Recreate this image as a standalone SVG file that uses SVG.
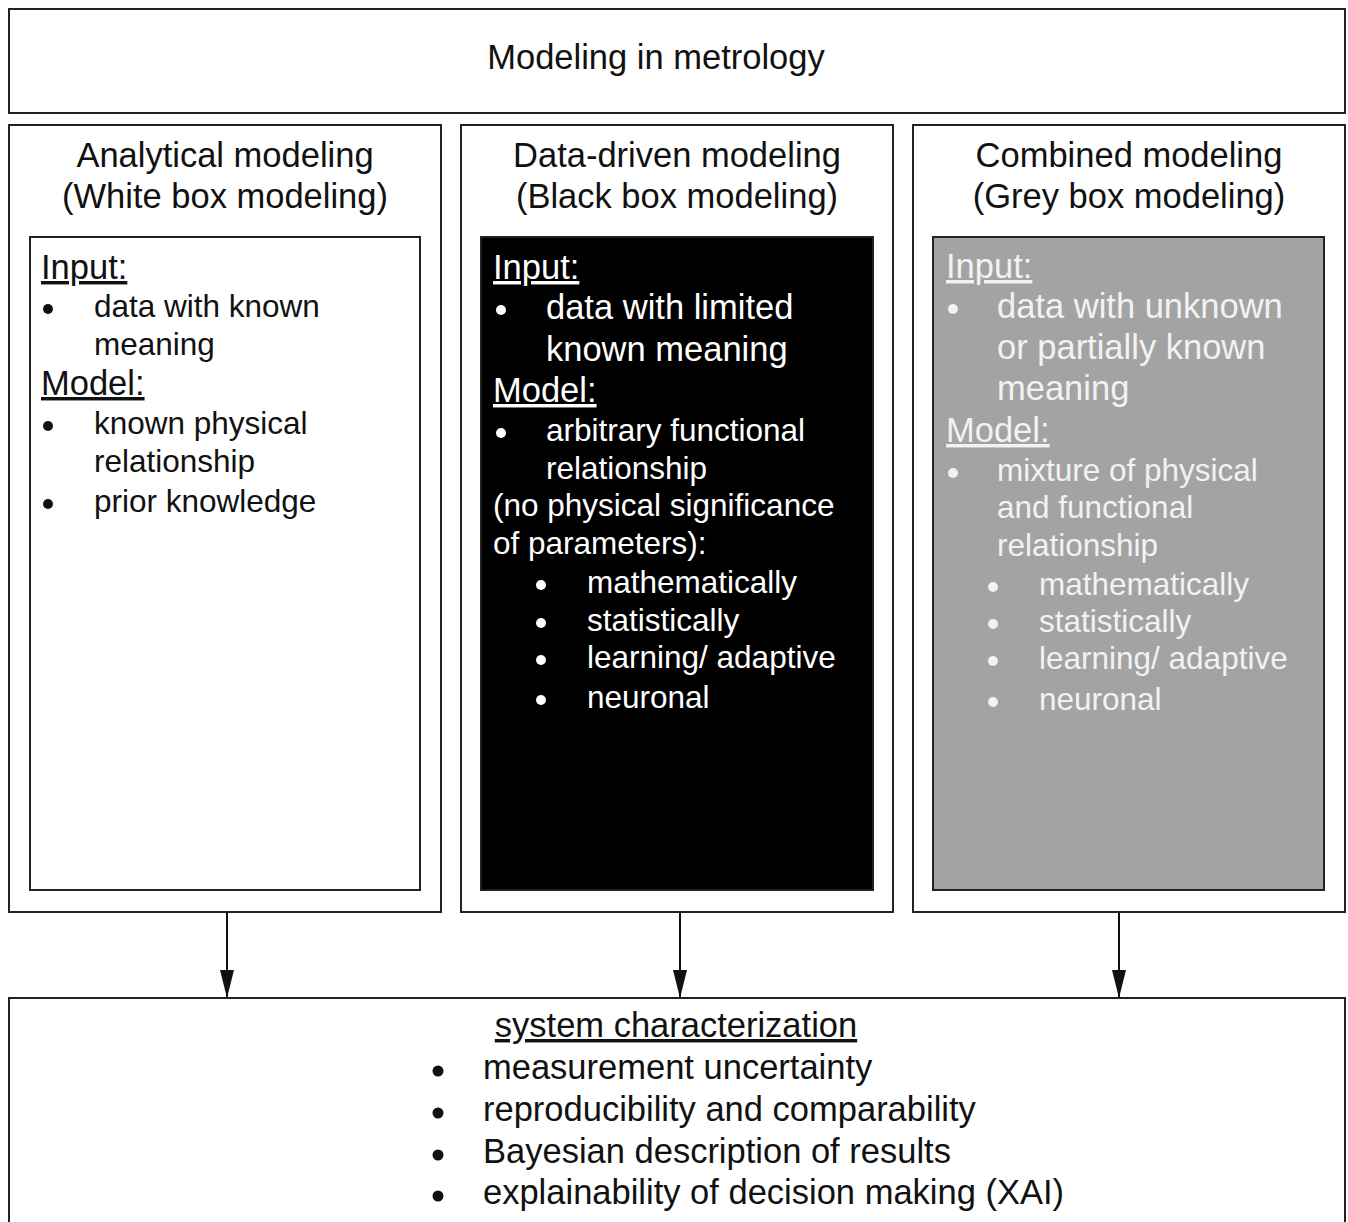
<svg xmlns="http://www.w3.org/2000/svg" width="1348" height="1222" viewBox="0 0 1348 1222">
<style>
text{font-family:"Liberation Sans",Arial,sans-serif;fill:#111}
.h{font-size:34.5px;text-anchor:middle}
.b{font-size:31.5px}
.l{font-size:34.5px}
.u{text-decoration:underline}
.box{fill:#fff;stroke:#222;stroke-width:2}
.w text{fill:#fff}
.g text{fill:#f2f2f2}
.dot{fill:#111}
.w .dot{fill:#fff}
.g .dot{fill:#f2f2f2}
.conn{stroke:#111;stroke-width:2;fill:none}
</style>
<defs>
<marker id="ah" markerUnits="userSpaceOnUse" markerWidth="28" markerHeight="14" refX="27" refY="7" orient="auto" viewBox="0 0 28 14">
<path d="M0,0 L28,7 L0,14 Z" fill="#111"/>
</marker>
</defs>
<g id="title">
<rect class="box" x="9" y="9" width="1336" height="104"/>
<text class="h" x="656" y="69">Modeling in metrology</text>
</g>
<g id="analytical">
<rect class="box" x="9" y="125" width="432" height="787"/>
<text class="h" x="225" y="167">Analytical modeling</text>
<text class="h" x="225" y="208">(White box modeling)</text>
<rect class="box" x="30" y="237" width="390" height="653"/>
<text class="l u" x="41" y="279">Input:</text>
<circle class="dot" cx="48" cy="309" r="5"/>
<text class="b" x="94" y="317">data with known</text>
<text class="b" x="94" y="355">meaning</text>
<text class="l u" x="41" y="395">Model:</text>
<circle class="dot" cx="48" cy="426" r="5"/>
<text class="b" x="94" y="434">known physical</text>
<text class="b" x="94" y="472">relationship</text>
<circle class="dot" cx="48" cy="504" r="5"/>
<text class="b" x="94" y="512">prior knowledge</text>
</g>
<g id="datadriven">
<rect class="box" x="461" y="125" width="432" height="787"/>
<text class="h" x="677" y="167">Data-driven modeling</text>
<text class="h" x="677" y="208">(Black box modeling)</text>
<g class="w">
<rect x="481" y="237" width="392" height="653" fill="#000" stroke="#222" stroke-width="2"/>
<text class="l u" x="493" y="279">Input:</text>
<circle class="dot" cx="501" cy="310" r="5"/>
<text class="l" x="546" y="319">data with limited</text>
<text class="l" x="546" y="361">known meaning</text>
<text class="l u" x="493" y="402">Model:</text>
<circle class="dot" cx="501" cy="433" r="5"/>
<text class="b" x="546" y="441">arbitrary functional</text>
<text class="b" x="546" y="479">relationship</text>
<text class="b" x="493" y="516">(no physical significance</text>
<text class="b" x="493" y="554">of parameters):</text>
<circle class="dot" cx="541" cy="585" r="5"/>
<text class="b" x="587" y="593">mathematically</text>
<circle class="dot" cx="541" cy="623" r="5"/>
<text class="b" x="587" y="631">statistically</text>
<circle class="dot" cx="541" cy="660" r="5"/>
<text class="b" x="587" y="668">learning/ adaptive</text>
<circle class="dot" cx="541" cy="700" r="5"/>
<text class="b" x="587" y="708">neuronal</text>
</g>
</g>
<g id="combined">
<rect class="box" x="913" y="125" width="432" height="787"/>
<text class="h" x="1129" y="167">Combined modeling</text>
<text class="h" x="1129" y="208">(Grey box modeling)</text>
<g class="g">
<rect x="933" y="237" width="391" height="653" fill="#a3a3a3" stroke="#222" stroke-width="2"/>
<text class="l u" x="946" y="278">Input:</text>
<circle class="dot" cx="953" cy="309" r="5"/>
<text class="l" x="997" y="318">data with unknown</text>
<text class="l" x="997" y="359">or partially known</text>
<text class="l" x="997" y="400">meaning</text>
<text class="l u" x="946" y="442">Model:</text>
<circle class="dot" cx="953" cy="473" r="5"/>
<text class="b" x="997" y="481">mixture of physical</text>
<text class="b" x="997" y="518">and functional</text>
<text class="b" x="997" y="556">relationship</text>
<circle class="dot" cx="993" cy="587" r="5"/>
<text class="b" x="1039" y="595">mathematically</text>
<circle class="dot" cx="993" cy="624" r="5"/>
<text class="b" x="1039" y="632">statistically</text>
<circle class="dot" cx="993" cy="661" r="5"/>
<text class="b" x="1039" y="669">learning/ adaptive</text>
<circle class="dot" cx="993" cy="702" r="5"/>
<text class="b" x="1039" y="710">neuronal</text>
</g>
</g>
<g id="characterization">
<rect class="box" x="9" y="998" width="1336" height="240"/>
<text class="l u" x="676" y="1037" text-anchor="middle">system characterization</text>
<circle class="dot" cx="438" cy="1071" r="5.5"/>
<text class="l" x="483" y="1079">measurement uncertainty</text>
<circle class="dot" cx="438" cy="1113" r="5.5"/>
<text class="l" x="483" y="1121">reproducibility and comparability</text>
<circle class="dot" cx="438" cy="1155" r="5.5"/>
<text class="l" x="483" y="1163">Bayesian description of results</text>
<circle class="dot" cx="438" cy="1196" r="5.5"/>
<text class="l" x="483" y="1204">explainability of decision making (XAI)</text>
</g>
<g id="connectors">
<line class="conn" x1="227" y1="912" x2="227" y2="997" marker-end="url(#ah)"/>
<line class="conn" x1="680" y1="912" x2="680" y2="997" marker-end="url(#ah)"/>
<line class="conn" x1="1119" y1="912" x2="1119" y2="997" marker-end="url(#ah)"/>
</g>
</svg>
